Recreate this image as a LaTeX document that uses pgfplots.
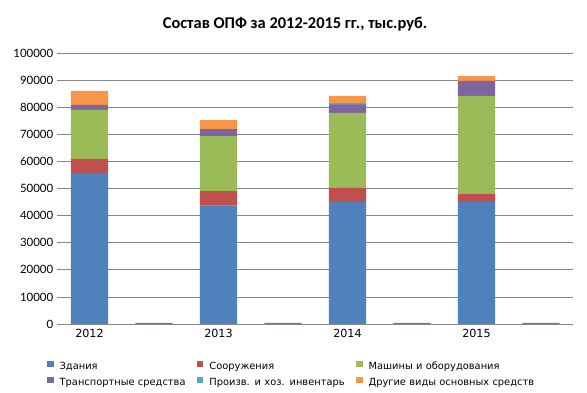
\documentclass[border=0pt]{standalone}
\usepackage{pgfplots}
\pgfplotsset{compat=1.18}
\usepackage{fontspec}
\setmainfont{Carlito}
\newfontfamily\tickfont{Lato}
\newfontfamily\xfont{DejaVu Sans}
\newfontfamily\legfont{DejaVu Sans}
\definecolor{c1}{HTML}{4F81BD}
\definecolor{c2}{HTML}{C0504D}
\definecolor{c3}{HTML}{9BBB59}
\definecolor{c4}{HTML}{8064A2}
\definecolor{c5}{HTML}{4BACC6}
\definecolor{c6}{HTML}{F79646}
\definecolor{gridc}{HTML}{868686}
\begin{document}
\begin{tikzpicture}
\useasboundingbox (0,0) rectangle (587bp,393bp);
\node[font=\fontsize{16.5}{19}\selectfont\bfseries, anchor=base, inner sep=0pt] at (295bp,364.7bp) {Состав ОПФ за 2012-2015 гг., тыс.руб.};
\begin{axis}[
  at={(57.25bp,69bp)}, anchor=south west,
  scale only axis, width=516bp, height=270.7bp,
  ybar stacked, bar width=0.574,
  xmin=-0.5, xmax=7.5, ymin=0, ymax=100000,
  xtick={0,2,4,6}, xticklabels={2012,2013,2014,2015},
  major tick length=0pt,
  ytick={0,10000,...,100000},
  scaled y ticks=false,
  /pgf/number format/assume math mode=true,
  /pgf/number format/fixed,
  /pgf/number format/1000 sep={},
  yticklabel style={font=\tickfont\fontsize{11.5}{13}\selectfont, xshift=-0.5bp},
  xticklabel style={font=\xfont\fontsize{11.2}{13}\selectfont, yshift=-1.5bp},
  ymajorgrids, grid style={gridc, line width=0.75bp},
  axis x line*=bottom, axis y line*=left,
  x axis line style={gridc, line width=0.75bp, -},
  y axis line style={draw=none},
  every axis plot/.append style={draw=none},
  legend columns=3,
  legend style={at={(-0.0203,-0.13)}, anchor=north west, draw=none, fill=none,
    inner sep=0pt, column sep=0pt, row sep=0pt,
    font=\legfont\fontsize{9.9}{11}\selectfont,
    nodes={inner xsep=6bp, inner ysep=3bp, text height=7.5bp, text depth=2.5bp, align=left, text width=185bp},
    /tikz/column 2/.style={nodes={text width=131.1bp}},
    /tikz/column 4/.style={nodes={text width=140.4bp}}},
  legend image code/.code={\fill[#1,draw=none] (0bp,0bp) rectangle (6.7bp,6.7bp);},
]
\addplot[fill=c1] coordinates {(0,55800) (1,400) (2,43700) (3,400) (4,45100) (5,400) (6,45100) (7,400)};
\addplot[fill=c2] coordinates {(0,5200) (1,0) (2,5400) (3,0) (4,5200) (5,0) (6,3000) (7,0)};
\addplot[fill=c3] coordinates {(0,18100) (1,0) (2,20300) (3,0) (4,27700) (5,0) (6,36200) (7,0)};
\addplot[fill=c4] coordinates {(0,1850) (1,0) (2,2600) (3,0) (4,3000) (5,0) (6,5500) (7,0)};
\addplot[fill=c5] coordinates {(0,0) (1,0) (2,0) (3,0) (4,500) (5,0) (6,0) (7,0)};
\addplot[fill=c6] coordinates {(0,5200) (1,0) (2,3300) (3,0) (4,2800) (5,0) (6,1800) (7,0)};
\legend{Здания, Сооружения, Машины и оборудования, Транспортные средства, Произв. и хоз. инвентарь, Другие виды основных средств}
\end{axis}
\end{tikzpicture}
\end{document}
